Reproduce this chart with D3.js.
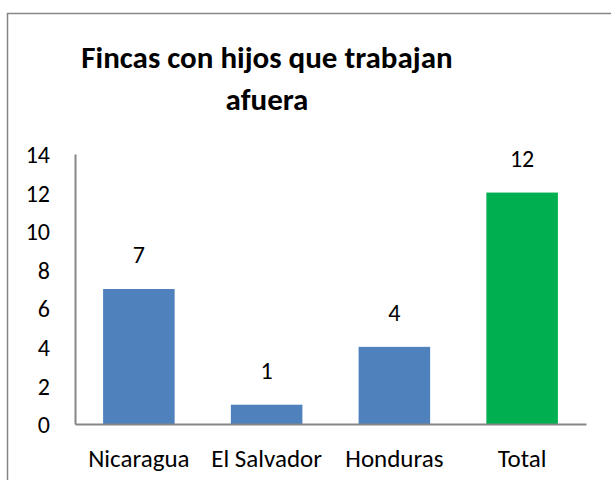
<!DOCTYPE html>
<html>
<head>
<meta charset="utf-8">
<script src="https://cdn.jsdelivr.net/npm/d3@7"></script>
<style>
  html, body { margin: 0; padding: 0; background: #fff; }
  svg { display: block; }
  text { font-family: Carlito, Calibri, Lato, "Open Sans", sans-serif; fill: #000; }
</style>
</head>
<body>
<svg id="chart" width="611" height="480"></svg>
<script>
const categories = ["Nicaragua", "El Salvador", "Honduras", "Total"];
const values = [7, 1, 4, 12];
const barColors = ["#4F81BD", "#4F81BD", "#4F81BD", "#00B050"];
const yTicks = [0, 2, 4, 6, 8, 10, 12, 14];
const titleLines = ["Fincas con hijos que trabajan", "afuera"];

const svg = d3.select("#chart");

// outer border
svg.append("rect")
  .attr("x", 7.5).attr("y", 13.5)
  .attr("width", 620).attr("height", 480)
  .attr("fill", "none").attr("stroke", "#878787").attr("stroke-width", 1.5);

const plotLeft = 75, plotRight = 586, plotTop = 154, plotBottom = 424;

const x = d3.scaleBand().domain(categories).range([plotLeft, plotRight]).paddingInner(0.44).paddingOuter(0.22);
const y = d3.scaleLinear().domain([0, 14]).range([plotBottom, plotTop]);

// title
svg.append("text")
  .attr("x", 267).attr("y", 68)
  .attr("text-anchor", "middle")
  .style("font-weight", "bold").style("font-size", "31px")
  .selectAll("tspan").data(titleLines).join("tspan")
  .attr("x", 267).attr("dy", (d, i) => i === 0 ? 0 : 42)
  .text(d => d);

// bars
svg.selectAll("rect.bar").data(values).join("rect")
  .attr("class", "bar")
  .attr("x", (d, i) => x(categories[i]))
  .attr("width", x.bandwidth())
  .attr("y", d => y(d))
  .attr("height", d => y(0) - y(d))
  .attr("fill", (d, i) => barColors[i]);

// value labels
svg.selectAll("text.val").data(values).join("text")
  .attr("class", "val")
  .attr("x", (d, i) => x(categories[i]) + x.bandwidth() / 2)
  .attr("y", d => y(d) - 26)
  .attr("text-anchor", "middle")
  .style("font-size", "24px")
  .text(d => d);

// y axis
const yAxis = d3.axisLeft(y).tickValues(yTicks).tickSize(0).tickPadding(0);
const gy = svg.append("g").attr("transform", `translate(${plotLeft},0)`).call(yAxis);
gy.select(".domain").attr("stroke", "#868686").attr("stroke-width", 2);
gy.selectAll("text").attr("x", -25).attr("dy", "0.36em").style("font-size", "24px").style("fill", "#000");

// x axis
const xAxis = d3.axisBottom(x).tickSize(0).tickPadding(0);
const gx = svg.append("g").attr("transform", `translate(0,${plotBottom})`).call(xAxis);
gx.select(".domain").attr("stroke", "#868686").attr("stroke-width", 2);
gx.selectAll("text").attr("y", 43).attr("dy", 0).style("font-size", "25px").style("fill", "#000");
svg.selectAll(".tick text").attr("font-family", null).attr("font-size", null);
</script>
</body>
</html>
